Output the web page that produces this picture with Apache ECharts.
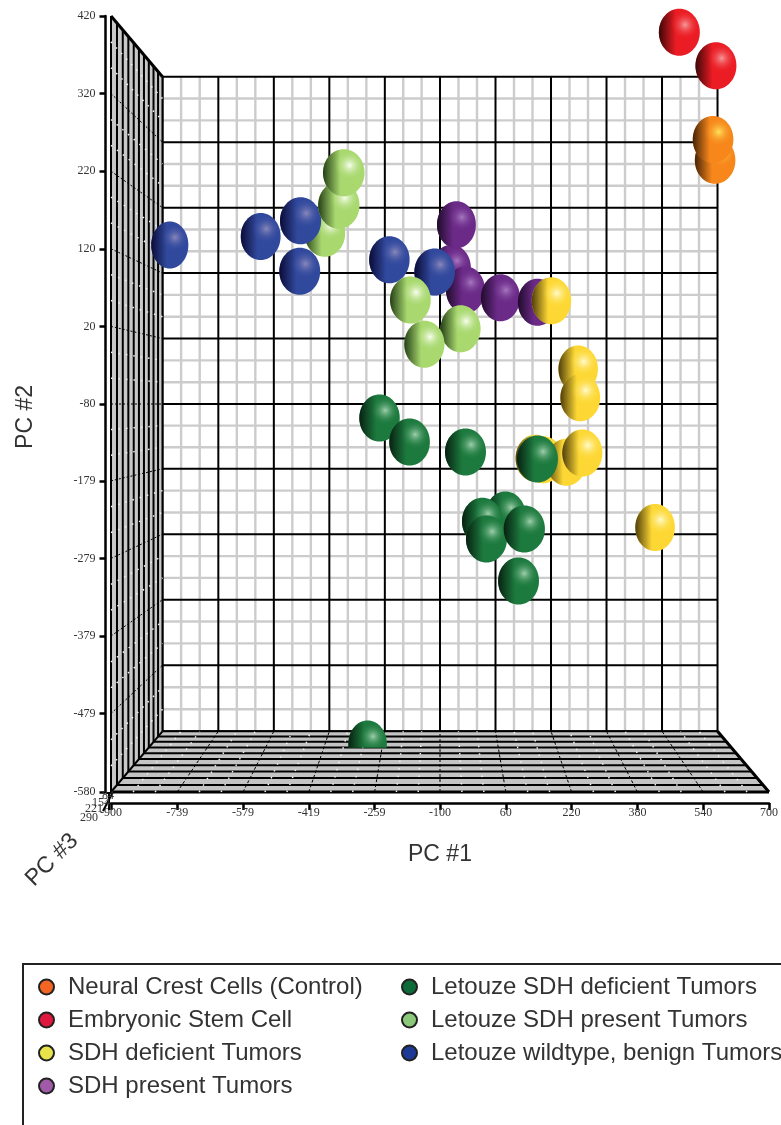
<!DOCTYPE html>
<html><head><meta charset="utf-8">
<style>html,body{margin:0;padding:0;background:#fff}#c{width:781px;height:1125px}</style>
<script src="https://cdn.jsdelivr.net/npm/echarts@6/dist/echarts.min.js"></script>
</head><body><div id="c"></div>
<script>
// Axis tick labels
const pc1Ticks = [-900,-739,-579,-419,-259,-100,60,220,380,540,700];
const pc2Ticks = [420,320,220,120,20,-80,-179,-279,-379,-479,-580];
const pc3Ticks = [84,154,221,290];
// Each sample: [apparent PC #1, apparent PC #2, PC #3]
const neuralCrest = [[569,234,195],[564,261,200]];
const embryonic = [[482,399,215],[571,356,215]];
const sdhDeficient = [[171,53,140],[236,-35,145],[241,-72,160],[132,-150,150],[151,-152,155],[207,-155,165],[246,-143,175],[423,-239,150]];
const sdhPresent = [[-60,151,115],[-72,95,110],[-38,67,120],[47,57,125],[137,51,130]];
const letouzeDeficient = [[-247,-98,190],[-174,-129,200],[-38,-142,215],[137,-151,215],[59,-223,185],[3,-231,205],[105,-241,230],[13,-254,220],[91,-308,212],[-276,-518,100]];
const letouzePresent = [[-380,140,200],[-346,176,235],[-334,218,245],[-172,54,205],[-50,17,170],[-138,-3,180]];
const letouzeWild = [[-757,125,30],[-536,136,160],[-439,156,225],[-441,91,210],[-223,106,190],[-113,90,195]];
const groundCut = -523;

const names = ['Neural Crest Cells (Control)','Embryonic Stem Cell','SDH deficient Tumors','SDH present Tumors','Letouze SDH deficient Tumors','Letouze SDH present Tumors','Letouze wildtype, benign Tumors'];
const groups = [neuralCrest,embryonic,sdhDeficient,sdhPresent,letouzeDeficient,letouzePresent,letouzeWild];
const legendColors = ['#f26522','#e0173f','#e8e34a','#a05aa8','#0d6b3a','#8cc87a','#1e3a96'];
const palettes = [
  {base:'#f7861b',dark:'rgba(50,25,5,0.9)',hi:'#fee45a'},
  {base:'#ec1c24',dark:'rgba(45,5,5,0.92)',hi:'#f59a9a'},
  {base:'#fdd835',dark:'rgba(60,45,5,0.9)',hi:'#fffbd0'},
  {base:'#6b2a88',dark:'rgba(25,8,35,0.92)',hi:'#a878c0'},
  {base:'#1d7a3e',dark:'rgba(5,28,14,0.95)',hi:'#9fd0ac'},
  {base:'#a8d86e',dark:'rgba(25,50,15,0.92)',hi:'#f8fff0'},
  {base:'#31499d',dark:'rgba(8,8,50,0.95)',hi:'#8a88bc'}
];

const K = 0.1855, CX = -100, CY = -80;
function project(x,y,z){const s=1/(1+K*z);return [CX+(x-CX)*s, CY+(y-CY)*s];}
const xMin=-900,xMax=700,yMin=-580,yMax=420;

function frameItem(params,api){
  const P=(x,y,z)=>api.coord(project(x,y,z));
  const ch=[];
  const line=(a,b,stroke,w,dash,z2)=>ch.push({type:'line',z2:z2,shape:{x1:a[0],y1:a[1],x2:b[0],y2:b[1]},style:{stroke:stroke,lineWidth:w,lineDash:dash||null,fill:null}});
  const poly=(pts,fill,z2)=>ch.push({type:'polygon',z2:z2,shape:{points:pts},style:{fill:fill}});
  const nz=10;
  // back wall
  for(let i=0;i<pc1Ticks.length-1;i++){
    const a=pc1Ticks[i],b=pc1Ticks[i+1];
    [1/3,2/3].forEach(f=>{const v=a+(b-a)*f;line(P(v,yMin,1),P(v,yMax,1),'#cccccc',2.4,null,1);});
  }
  for(let i=0;i<pc2Ticks.length-1;i++){
    const a=pc2Ticks[i],b=pc2Ticks[i+1];
    [1/3,2/3].forEach(f=>{const v=a+(b-a)*f;line(P(xMin,v,1),P(xMax,v,1),'#cccccc',2.4,null,1);});
  }
  pc1Ticks.forEach(v=>line(P(v,yMin,1),P(v,yMax,1),'#000',2,null,2));
  pc2Ticks.forEach(v=>line(P(xMin,v,1),P(xMax,v,1),'#000',2,null,2));
  // side wall
  poly([P(xMin,yMin,0),P(xMin,yMax,0),P(xMin,yMax,1),P(xMin,yMin,1)],'#c8c8c8',3);
  // floor
  poly([P(xMin,yMin,0),P(xMax,yMin,0),P(xMax,yMin,1),P(xMin,yMin,1)],'#c4c4c4',3);
  for(let i=0;i<=nz;i++){
    const z=i/nz;
    line(P(xMin,yMin,z),P(xMin,yMax,z),'#000',2,null,5);
    line(P(xMin,yMin,z),P(xMax,yMin,z),'#000',i===0?3:2,null,5);
  }
  for(let i=0;i<pc2Ticks.length-1;i++){
    const a=pc2Ticks[i],b=pc2Ticks[i+1];
    [1/3,2/3].forEach(f=>{const v=a+(b-a)*f;line(P(xMin,v,0),P(xMin,v,1),'#f2f2f2',1.5,[1.5,6],6);});
  }
  for(let i=0;i<pc1Ticks.length-1;i++){
    const a=pc1Ticks[i],b=pc1Ticks[i+1];
    [1/3,2/3].forEach(f=>{const v=a+(b-a)*f;line(P(v,yMin,0),P(v,yMin,1),'#f2f2f2',1.5,[1.5,6],6);});
  }
  pc2Ticks.slice(1,-1).forEach(v=>line(P(xMin,v,0),P(xMin,v,1),'#000',1,[2,2],6));
  pc1Ticks.slice(1,-1).forEach(v=>line(P(v,yMin,0),P(v,yMin,1),'#000',1,[3,2],6));
  // outer heavy edges
  line(P(xMin,yMax,0),P(xMin,yMax,1),'#000',3,null,7);
  line(P(xMax,yMin,0),P(xMax,yMin,1),'#000',3,null,7);
  line(P(xMin,yMin,0),P(xMin,yMin,1),'#000',2,null,7);
  // PC #3 axis pile-up in the corner
  const o=api.coord([xMin,yMin]);
  line([o[0]+2,o[1]],[o[0]-8,o[1]+19],'#000',2,null,7);
  line([o[0]-2,o[1]+1],[o[0]-2,o[1]+18],'#000',2,null,7);
  line([o[0]-5,o[1]+1],[o[0]+2,o[1]+1],'#000',2,null,7);
  const off=[[-3,4],[-10,11],[-17,17],[-22,26]];
  pc3Ticks.forEach((t,i)=>ch.push({type:'text',z2:8,style:{text:String(t),x:o[0]+off[i][0],y:o[1]+off[i][1],align:'center',verticalAlign:'middle',font:'12px "Liberation Serif"',fill:'#333'}}));
  return {type:'group',children:ch};
}

function sphereItem(pal){
  return function(params,api){
    const c=api.coord([api.value(0),api.value(1)]);
    const d=api.value(2);
    const rx=(36.5+d/290*6)/2, ry=23.5;
    const z=100+d*4+params.dataIndex%4;
    const shape={cx:c[0],cy:c[1],rx:rx,ry:ry};
    const g={type:'group',children:[
      {type:'ellipse',z2:z,shape:shape,style:{fill:pal.base}},
      {type:'ellipse',z2:z+0.1,shape:shape,style:{fill:{type:'linear',x:0,y:0,x2:1,y2:0,colorStops:[{offset:0,color:pal.dark},{offset:0.42,color:pal.dark.replace(/[\d.]+\)$/,'0)')}]}}},
      {type:'ellipse',z2:z+0.2,shape:shape,style:{fill:{type:'radial',x:0.64,y:0.34,r:0.36,colorStops:[{offset:0,color:pal.hi},{offset:1,color:pal.base+'00'}]}}}
    ]};
    if(api.value(1)<groundCut+20){
      const b=api.coord([api.value(0),groundCut]);
      g.clipPath={type:'rect',shape:{x:c[0]-rx-2,y:c[1]-ry-2,width:2*rx+4,height:b[1]-(c[1]-ry-2)}};
    }
    return g;
  };
}

const chart=echarts.init(document.getElementById('c'),null,{renderer:'canvas'});
const legendText={color:'#333',fontFamily:'Liberation Sans',fontSize:24,padding:[0,0,0,9]};
function legendOf(left,top,idx){
  return {orient:'vertical',left:left,top:top,itemWidth:15,itemHeight:15,itemGap:9,icon:'circle',padding:0,textStyle:legendText,selectedMode:false,
    data:idx.map(i=>({name:names[i],icon:'circle',itemStyle:{color:legendColors[i],borderColor:'#222',borderWidth:2}}))};
}
chart.setOption({
  animation:false,
  backgroundColor:'#fff',
  grid:{left:111,top:16,width:659,height:776,containLabel:false},
  xAxis:{type:'value',min:xMin,max:xMax,offset:11,splitLine:{show:false},
    axisLine:{show:true,onZero:false,lineStyle:{color:'#000',width:2.5}},
    axisTick:{show:true,length:7,inside:false,customValues:pc1Ticks,lineStyle:{color:'#000',width:2.5}},
    axisLabel:{customValues:pc1Ticks,margin:4,color:'#333',fontFamily:'Liberation Serif',fontSize:12,showMinLabel:true,showMaxLabel:true}},
  yAxis:{type:'value',min:yMin,max:yMax,offset:5.5,splitLine:{show:false},
    axisLine:{show:true,onZero:false,lineStyle:{color:'#000',width:2.5}},
    axisTick:{show:true,length:6,customValues:pc2Ticks,lineStyle:{color:'#000',width:2.5}},
    axisLabel:{customValues:pc2Ticks,margin:10,color:'#333',fontFamily:'Liberation Serif',fontSize:12}},
  legend:[legendOf(38,975,[0,1,2,3]),legendOf(401,975,[4,5,6])],
  graphic:[
    {type:'text',left:408,top:843,style:{text:'PC #1',font:'23px "Liberation Sans"',fill:'#333'}},
    {type:'text',x:26,y:417,rotation:Math.PI/2,style:{text:'PC #2',align:'center',verticalAlign:'middle',font:'23px "Liberation Sans"',fill:'#333'}},
    {type:'text',x:52,y:860,rotation:Math.PI/4,style:{text:'PC #3',align:'center',verticalAlign:'middle',font:'23px "Liberation Sans"',fill:'#333'}},
    {type:'polyline',shape:{points:[[23,1130],[23,964],[790,964]]},style:{stroke:'#222',lineWidth:2,fill:null}}
  ],
  series:[{type:'custom',name:'frame',silent:true,clip:false,coordinateSystem:'cartesian2d',data:[[0,0]],renderItem:frameItem}]
    .concat(groups.map((g,i)=>({type:'custom',name:names[i],silent:true,clip:false,coordinateSystem:'cartesian2d',
      encode:{x:0,y:1},data:g,itemStyle:{color:legendColors[i]},renderItem:sphereItem(palettes[i])})))
});
</script></body></html>
